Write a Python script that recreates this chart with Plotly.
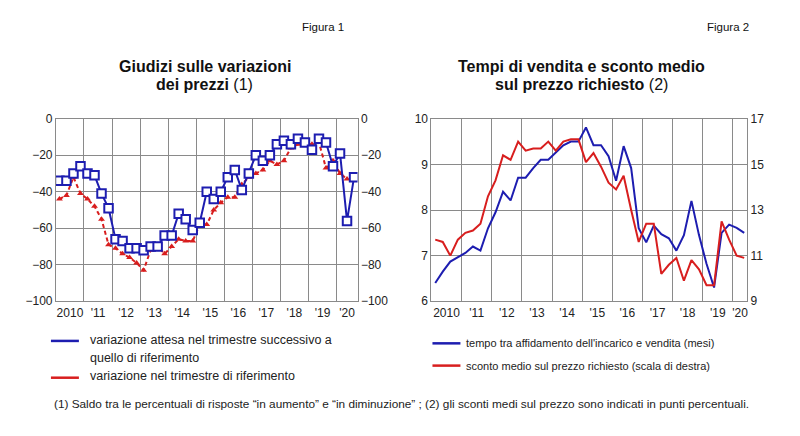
import plotly.graph_objects as go

# ---------------- data ----------------
# Figura 1: quarterly 2010Q1 .. 2020Q3
f1_start_year = 2010
f1_expected = [-34, -34, -30, -26, -30, -31, -41, -49, -66, -67,
               -71, -71, -72, -70, -70, -64, -64, -52, -55, -61,
               -57, -40, -44, -40, -32, -28, -39, -30, -20, -23,
               -20, -14, -12, -14, -11, -13, -17, -11, -13, -26,
               -19, -56, -32]
f1_reference = [-44, -42, -32, -41, -44, -48, -55, -69, -71, -74,
                -76, -79, -83, -72, -70, -74, -70, -66, -67, -67,
                -58, -58, -50, -46, -43, -43, -36, -32, -30, -28,
                -23, -25, -23, -16, -14, -14, -14, -13, -27, -23,
                -30, -33]
f1_year_labels = ["2010", "'11", "'12", "'13", "'14", "'15", "'16", "'17", "'18", "'19", "'20"]
f1_yticks = [0, -20, -40, -60, -80, -100]

# Figura 2: quarterly 2010Q1 .. 2020Q2
f2_time_months = [6.40, 6.65, 6.87, 6.97, 7.06, 7.20, 7.11, 7.60, 7.95, 8.40,
                  8.21, 8.71, 8.71, 8.92, 9.10, 9.10, 9.26, 9.42, 9.50, 9.50,
                  9.81, 9.42, 9.42, 9.18, 8.64, 9.40, 8.92, 7.60, 7.29, 7.66,
                  7.47, 7.38, 7.11, 7.45, 8.20, 7.45, 6.82, 6.30, 7.50, 7.68,
                  7.61, 7.50]
f2_discount = [11.7, 11.6, 11.0, 11.7, 12.0, 12.1, 12.4, 13.6, 14.3, 15.4,
               15.2, 16.0, 15.6, 15.7, 15.7, 16.0, 15.6, 16.0, 16.1, 16.1,
               15.1, 15.5, 14.9, 14.2, 13.9, 14.5, 13.0, 11.6, 12.4, 12.4,
               10.2, 10.6, 10.9, 9.9, 10.8, 10.4, 9.7, 9.7, 12.5, 11.7,
               11.0, 10.9]
f2_year_labels = ["2010", "'11", "'12", "'13", "'14", "'15", "'16", "'17", "'18", "'19", "'20"]
f2_left_ticks = [6, 7, 8, 9, 10]
f2_right_ticks = [9, 11, 13, 15, 17]

BLUE = "#1d1db0"
RED = "#d81e1e"
GRID = "#8a8a8a"
FONT = "Liberation Sans, Arial, sans-serif"
TXT = "#222222"


def qx(n, start):
    return [start + (i + 0.5) / 4 for i in range(n)]


f1_xmax = 2020.75
f2_xmax = 2020.47

fig = go.Figure()

# ---- Figura 1 traces ----
fig.add_trace(go.Scatter(
    x=qx(len(f1_reference), f1_start_year), y=f1_reference, mode="lines+markers",
    line=dict(color=RED, width=2, dash="4px,3px"),
    marker=dict(symbol="triangle-up", size=6, color=RED),
    xaxis="x", yaxis="y", showlegend=False))
fig.add_trace(go.Scatter(
    x=qx(len(f1_expected), f1_start_year), y=f1_expected, mode="lines+markers",
    line=dict(color=BLUE, width=2),
    marker=dict(symbol="square", size=8.5, color="white", line=dict(color=BLUE, width=2)),
    xaxis="x", yaxis="y", showlegend=False))
# invisible trace for the right axis of Figura 1
fig.add_trace(go.Scatter(x=[2010], y=[0], mode="markers", marker=dict(opacity=0),
                         xaxis="x", yaxis="y2", showlegend=False, hoverinfo="skip"))

# ---- Figura 2 traces ----
fig.add_trace(go.Scatter(
    x=qx(len(f2_discount), 2010), y=f2_discount, mode="lines",
    line=dict(color=RED, width=2), xaxis="x2", yaxis="y4", showlegend=False))
fig.add_trace(go.Scatter(
    x=qx(len(f2_time_months), 2010), y=f2_time_months, mode="lines",
    line=dict(color=BLUE, width=2), xaxis="x2", yaxis="y3", showlegend=False))

yd = [1 - 304 / 436, 1 - 115.5 / 436]

f1_tickvals = [2010 + k + 0.5 for k in range(10)] + [(2020 + f1_xmax) / 2]
f2_tickvals = [2010 + k + 0.5 for k in range(10)] + [(2020 + f2_xmax) / 2]

TICKFONT = dict(family=FONT, size=12, color=TXT)
xcommon = dict(showgrid=False, ticks="", showline=True, linecolor=GRID, linewidth=1, mirror=True,
               tickfont=TICKFONT, zeroline=False,
               minor=dict(dtick=1, tick0=2010, showgrid=True, gridcolor=GRID, gridwidth=1.3, ticks=""))
ycommon = dict(showline=True, linecolor=GRID, linewidth=1, mirror=True, ticks="",
               tickfont=TICKFONT, zeroline=False)

fig.update_layout(
    width=800, height=436, autosize=False,
    margin=dict(l=0, r=0, t=0, b=0),
    paper_bgcolor="white", plot_bgcolor="white",
    font=dict(family=FONT, color=TXT),
    xaxis=dict(domain=[56 / 800, 358 / 800], range=[2010, f1_xmax], anchor="y",
               tickvals=f1_tickvals, ticktext=f1_year_labels, **xcommon),
    yaxis=dict(domain=yd, range=[-100, 0], tickvals=f1_yticks, anchor="x",
               showgrid=True, gridcolor=GRID, gridwidth=1.3, **ycommon),
    yaxis2=dict(range=[-100, 0], tickvals=f1_yticks, overlaying="y", side="right", anchor="x",
                showgrid=False, **ycommon),
    xaxis2=dict(domain=[432 / 800, 748 / 800], range=[2010, f2_xmax], anchor="y3",
                tickvals=f2_tickvals, ticktext=f2_year_labels, **xcommon),
    yaxis3=dict(domain=yd, range=[6, 10], tickvals=f2_left_ticks, anchor="x2",
                showgrid=True, gridcolor=GRID, gridwidth=1.3, **ycommon),
    yaxis4=dict(range=[9, 17], tickvals=f2_right_ticks, overlaying="y3", side="right", anchor="x2",
                showgrid=False, **ycommon),
)


def py(p):
    return 1 - p / 436


def px(p):
    return p / 800


ann = []


def add_text(text, x, y, size, xanchor="left", color=TXT):
    ann.append(dict(text=text, x=px(x), y=py(y), xanchor=xanchor, yanchor="middle",
                    font=dict(size=size, family=FONT, color=color)))


add_text("Figura 1", 346, 21, 11.5, "right", "#111")
add_text("Figura 2", 752, 21, 11.5, "right", "#111")
add_text("<b>Giudizi sulle variazioni</b>", 205, 61, 16, "center", "#111")
add_text("<b>dei prezzi</b> (1)", 205, 80, 16, "center", "#111")
add_text("<b>Tempi di vendita e sconto medio</b>", 582, 61, 16, "center", "#111")
add_text("<b>sul prezzo richiesto</b> (2)", 582, 80, 16, "center", "#111")
# legends
add_text("variazione attesa nel trimestre successivo a", 88, 344, 12.5)
add_text("quello di riferimento", 88, 362.5, 12.5)
add_text("variazione nel trimestre di riferimento", 88, 381.5, 12.5)
add_text("tempo tra affidamento dell'incarico e vendita (mesi)", 465, 347.5, 11)
add_text("sconto medio sul prezzo richiesto (scala di destra)", 465, 370.5, 11)
add_text("(1) Saldo tra le percentuali di risposte “in aumento” e “in diminuzione” ; (2) gli sconti medi sul prezzo sono indicati in punti percentuali.",
         52, 410, 11.8)
for a in ann:
    a.update(xref="paper", yref="paper", showarrow=False)
fig.update_layout(annotations=ann)

shapes = []
for (x0, x1, yy, c) in [(51, 79, 345, BLUE), (51, 79, 383, RED), (433, 461, 347.5, BLUE), (433, 461, 370.5, RED)]:
    shapes.append(dict(type="line", xref="paper", yref="paper", x0=px(x0), x1=px(x1), y0=py(yy), y1=py(yy),
                       line=dict(color=c, width=2.5)))
fig.update_layout(shapes=shapes)

fig.write_html("out.html")
